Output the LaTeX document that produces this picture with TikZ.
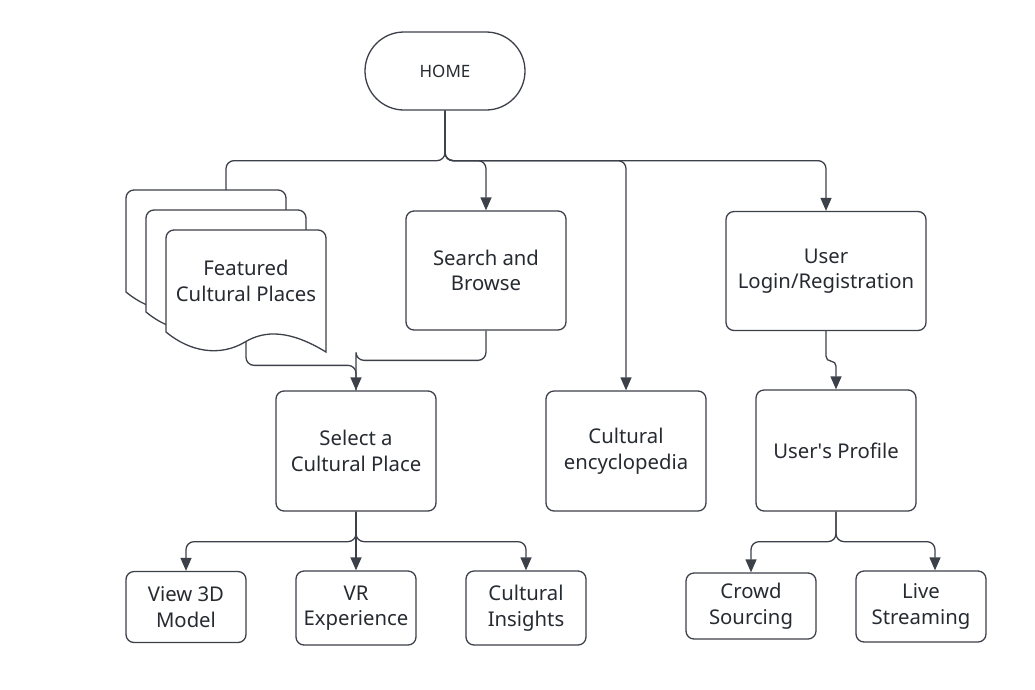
\documentclass[tikz,border=0pt]{standalone}
\usepackage{fontspec}
\setmainfont{Noto Sans}
\usetikzlibrary{arrows.meta,calc}
\definecolor{lc}{HTML}{3C4049}
\definecolor{tc}{HTML}{262A31}
\begin{document}
\begin{tikzpicture}[x=1pt,y=-1pt,
  every node/.style={text=tc},
  lbl/.style={font=\fontsize{20.3}{25.5}\selectfont, align=center},
  box/.style={draw=lc, line width=1.3pt, rounded corners=8pt, fill=white, lbl, inner sep=0pt},
  docshape/.style={draw=lc, line width=1.3pt, fill=white},
  conn/.style={draw=lc, line width=1.3pt, rounded corners=8pt},
  arr/.style={conn, -{Triangle[length=13pt,width=11pt]}}
]
\useasboundingbox (0,0) rectangle (1035,689);

% HOME
\node[draw=lc, line width=1.3pt, rounded corners=39pt, minimum width=160pt, minimum height=78pt, inner sep=0pt, font=\fontsize{17}{20}\selectfont] (home) at (445,71) {HOME};

% Featured documents (stacked)
\foreach \dx/\dy in {-40/-40,-20/-20,0/0}{
  \draw[docshape, shift={(\dx,\dy)}]
    (166,332) [rounded corners=8pt]-- (166,230) -- (326,230) [sharp corners]-- (326,352)
    .. controls (290,330) and (265,330) .. (245,342)
    .. controls (220,357) and (190,352) .. (166,332) -- cycle;
}
\node[lbl] (feat) at (246,281) {Featured\\Cultural Places};
\coordinate (bk) at (226,190);
\coordinate (fdout) at (246,342);

% Boxes
\node[box, minimum width=160pt, minimum height=119pt] (search) at (486,270.5) {Search and\\Browse};
\node[box, minimum width=200pt, minimum height=119pt] (login) at (826,271) {User\\Login/Registration};
\node[box, minimum width=160pt, minimum height=120pt] (select) at (356,451) {Select a\\Cultural Place};
\node[box, minimum width=160pt, minimum height=120pt] (ency) at (626,451) {Cultural\\encyclopedia};
\node[box, minimum width=160pt, minimum height=121pt] (profile) at (836,450.5) {User\textquotesingle s Profile};

\node[box, minimum width=120pt, minimum height=71pt] (view) at (186,607) {View 3D\\Model};
\node[box, minimum width=120pt, minimum height=74pt] (vr) at (356,608) {VR\\Experience};
\node[box, minimum width=120pt, minimum height=74pt] (insight) at (526,608) {Cultural\\Insights};
\node[box, minimum width=130pt, minimum height=66pt] (crowd) at (751,606) {Crowd\\Sourcing};
\node[box, minimum width=130pt, minimum height=71pt] (live) at (921,606.5) {Live\\Streaming};

% Connectors from HOME
\draw[conn] (home.south) -- ++(0,50) -| (bk);
\draw[arr] (home.south) -- ++(0,50) -| (search.north);
\draw[arr] (home.south) -- ++(0,50) -| (ency.north);
\draw[arr] (home.south) -- ++(0,50) -| (login.north);

% To Select
\draw[conn] (search.south) |- ($(select.north)+(0,-30)$) -| (select.north);
\draw[arr] (fdout) |- ($(select.north)+(0,-25)$) -- (select.north);

% Login to profile
\draw[arr, rounded corners=5pt] (login.south) -- ++(0,30) -| (profile.north);

% Select children
\draw[arr] (select.south) -- ++(0,30) -| (view.north);
\draw[arr] (select.south) -- (vr.north);
\draw[arr] (select.south) -- ++(0,30) -| (insight.north);

% Profile children
\draw[arr] (profile.south) -- ++(0,30) -| (crowd.north);
\draw[arr] (profile.south) -- ++(0,30) -| ([xshift=14pt]live.north);
\end{tikzpicture}
\end{document}
